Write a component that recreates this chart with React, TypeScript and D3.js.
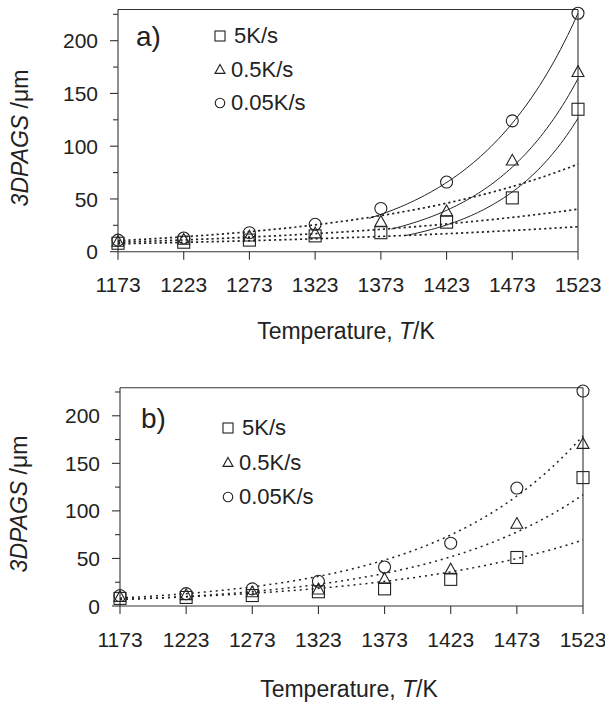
import React from "react";
import * as d3 from "d3";

// ---------- data ----------
const temperatures = [1173, 1223, 1273, 1323, 1373, 1423, 1473, 1523];
const seriesNames = ["5K/s", "0.5K/s", "0.05K/s"];
const seriesShapes = ["square", "triangle", "circle"];
const size5 = [8, 9, 11, 15, 18, 28, 51, 135];
const size05 = [9, 11, 14, 17, 28, 38, 86, 170];
const size005 = [11, 13, 18, 26, 41, 66, 124, 226];
const seriesValues = [size5, size05, size005];

const xTicks = [1173, 1223, 1273, 1323, 1373, 1423, 1473, 1523];
const yMajorTicks = [0, 50, 100, 150, 200];
const yMinorTicks = [25, 75, 125, 175, 225];

// panel a: low-temperature fits (dotted) – value at 1173 and at 1523
const aLowStart = [7.5, 9, 10.5];
const aLowEnd = [23.7, 40.3, 83];
// panel a: high-temperature fits (solid) – start temperature, start value, value at 1523
const aHighStartT = [1392, 1381, 1364];
const aHighStartV = [15.4, 21.5, 31.6];
const aHighEnd = [126.5, 164, 226];
// panel b: whole-range fits (dotted) – value at 1173 and at 1523
const bFitStart = [6.9, 6.7, 8.4];
const bFitEnd = [69.4, 117, 179];

const FONT = "'Liberation Sans', Arial, Helvetica, sans-serif";
const INK = "#222";

function expCurve(t0: number, v0: number, t1: number, v1: number, n = 60) {
  const b = Math.log(v1 / v0) / (t1 - t0);
  return d3.range(n + 1).map((i) => {
    const t = t0 + ((t1 - t0) * i) / n;
    return [t, v0 * Math.exp(b * (t - t0))] as [number, number];
  });
}

function Marker({ shape, x, y, s }: { shape: string; x: number; y: number; s: number }) {
  const common = { fill: "none", stroke: INK, strokeWidth: 1.1 };
  if (shape === "square")
    return <rect x={x - s / 2} y={y - s / 2} width={s} height={s} {...common} />;
  if (shape === "circle") return <circle cx={x} cy={y} r={s / 2} {...common} />;
  const h = s * 0.9;
  return (
    <path
      d={`M${x},${y - h * 0.62}L${x + s / 2},${y + h * 0.38}L${x - s / 2},${y + h * 0.38}Z`}
      {...common}
    />
  );
}

type PanelProps = {
  label: string;
  x0: number;
  x1: number;
  y0: number;
  yTop: number;
  tickLabelY: number;
  titleY: number;
  titleX: number;
  yTitleX: number;
  yTitleY: number;
  legendX: number;
  legendY: number[];
  labelPos: [number, number];
  mode: "a" | "b";
};

function Panel(p: PanelProps) {
  const x = d3.scaleLinear().domain([1173, 1523]).range([p.x0, p.x1]);
  const y = d3.scaleLinear().domain([0, 225]).range([p.y0, p.yTop]);
  const frameTop = y(229.5);
  const line = d3
    .line<[number, number]>()
    .x((d) => x(d[0]))
    .y((d) => y(d[1]))
    .curve(d3.curveLinear);

  const curves: React.ReactNode[] = [];
  if (p.mode === "a") {
    seriesNames.forEach((_, i) => {
      curves.push(
        <path
          key={"low" + i}
          d={line(expCurve(1173, aLowStart[i], 1523, aLowEnd[i]))!}
          fill="none"
          stroke={INK}
          strokeWidth={1.7}
          strokeDasharray="2.2,3"
        />
      );
      curves.push(
        <path
          key={"high" + i}
          d={line(expCurve(aHighStartT[i], aHighStartV[i], 1523, aHighEnd[i]))!}
          fill="none"
          stroke={INK}
          strokeWidth={1}
        />
      );
    });
  } else {
    seriesNames.forEach((_, i) => {
      curves.push(
        <path
          key={"fit" + i}
          d={line(expCurve(1173, bFitStart[i], 1523, bFitEnd[i]))!}
          fill="none"
          stroke={INK}
          strokeWidth={1.5}
          strokeDasharray="2,4"
        />
      );
    });
  }

  return (
    <g fontFamily={FONT} fill={INK}>
      {/* frame */}
      <line x1={p.x0} x2={p.x1} y1={frameTop} y2={frameTop} stroke="#333" strokeWidth={1.1} />
      <line x1={p.x1} x2={p.x1} y1={frameTop} y2={p.y0} stroke="#333" strokeWidth={1.1} />
      <line x1={p.x0} x2={p.x0} y1={frameTop} y2={p.y0} stroke="#333" strokeWidth={1.1} />
      <line x1={p.x0} x2={p.x1} y1={p.y0} y2={p.y0} stroke="#333" strokeWidth={1.1} />
      {/* y ticks */}
      {yMajorTicks.map((t) => (
        <g key={"ym" + t}>
          <line x1={p.x0 - 8} x2={p.x0} y1={y(t)} y2={y(t)} stroke="#333" strokeWidth={1.1} />
          <text x={p.x0 - 20} y={y(t)} dy="0.36em" textAnchor="end" fontSize={21}>
            {t}
          </text>
        </g>
      ))}
      {yMinorTicks.map((t) => (
        <line key={"yn" + t} x1={p.x0 - 5} x2={p.x0} y1={y(t)} y2={y(t)} stroke="#333" strokeWidth={1.1} />
      ))}
      {/* x ticks */}
      {xTicks.map((t) => (
        <g key={"x" + t}>
          <line x1={x(t)} x2={x(t)} y1={p.y0} y2={p.y0 + 8} stroke="#333" strokeWidth={1.1} />
          <text x={x(t)} y={p.tickLabelY} textAnchor="middle" fontSize={21}>
            {t}
          </text>
        </g>
      ))}
      {/* titles */}
      <text x={p.titleX} y={p.titleY} textAnchor="middle" fontSize={23}>
        Temperature, <tspan fontStyle="italic">T</tspan>/K
      </text>
      <text
        transform={`translate(${p.yTitleX},${p.yTitleY}) rotate(-90)`}
        textAnchor="middle"
        fontSize={23}
      >
        <tspan fontStyle="italic">3DPAGS</tspan> /μm
      </text>
      {/* panel label */}
      <text x={p.labelPos[0]} y={p.labelPos[1]} fontSize={28}>
        {p.label}
      </text>
      {/* legend */}
      {seriesNames.map((n, i) => (
        <g key={"leg" + i}>
          <Marker shape={seriesShapes[i]} x={p.legendX} y={p.legendY[i] + 1} s={i === 2 ? 9.5 : 10} />
          <text x={p.legendX + (i === 0 ? 14 : 11)} y={p.legendY[i]} dy="0.36em" fontSize={22}>
            {n}
          </text>
        </g>
      ))}
      {/* curves */}
      <g>{curves}</g>
      {/* points */}
      {seriesValues.map((vals, i) =>
        vals.map((v, j) => (
          <Marker key={`m${i}-${j}`} shape={seriesShapes[i]} x={x(temperatures[j])} y={y(v)} s={12} />
        ))
      )}
    </g>
  );
}

export default function App() {
  return (
    <svg width={605} height={702} style={{ display: "block", position: "absolute", left: 0, top: 0 }}>
      <rect width={605} height={702} fill="#fff" />
      <Panel
        label="a)"
        mode="a"
        x0={118}
        x1={578}
        y0={251.7}
        yTop={14.3}
        tickLabelY={292}
        titleX={346}
        titleY={339}
        yTitleX={28}
        yTitleY={138}
        legendX={220}
        legendY={[35, 69, 102]}
        labelPos={[136, 46]}
      />
      <Panel
        label="b)"
        mode="b"
        x0={120}
        x1={583}
        y0={606}
        yTop={392}
        tickLabelY={647}
        titleX={349}
        titleY={697}
        yTitleX={27}
        yTitleY={504}
        legendX={228}
        legendY={[427, 462, 496]}
        labelPos={[141, 428]}
      />
    </svg>
  );
}
